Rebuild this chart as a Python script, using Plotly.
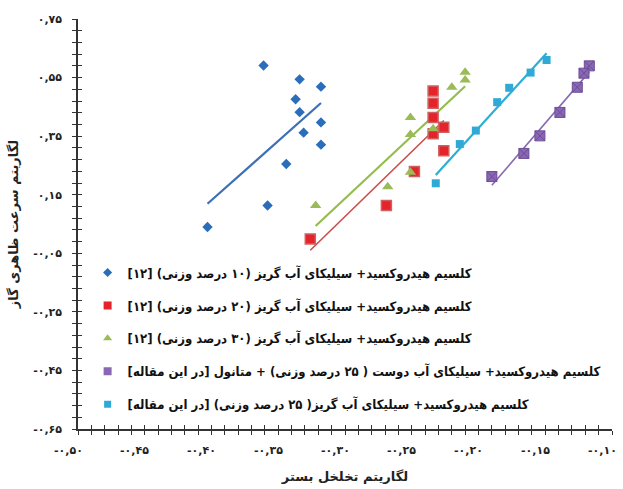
import numpy as np
import plotly.graph_objects as go

# ---- data ----
blue_x = [-0.361, -0.334, -0.318, -0.337, -0.334, -0.318, -0.331, -0.318, -0.344, -0.358, -0.403]
blue_y = [0.591, 0.544, 0.519, 0.476, 0.432, 0.397, 0.362, 0.321, 0.255, 0.113, 0.040]

red_x = [-0.234, -0.234, -0.234, -0.226, -0.234, -0.226, -0.248, -0.269, -0.326]
red_y = [0.504, 0.462, 0.414, 0.380, 0.358, 0.300, 0.229, 0.113, -0.001]

green_x = [-0.210, -0.210, -0.220, -0.251, -0.234, -0.251, -0.251, -0.268, -0.322]
green_y = [0.568, 0.542, 0.517, 0.414, 0.375, 0.356, 0.227, 0.177, 0.113]

purple_x = [-0.117, -0.121, -0.126, -0.139, -0.154, -0.166, -0.190]
purple_y = [0.590, 0.565, 0.517, 0.431, 0.351, 0.291, 0.212]

cyan_x = [-0.149, -0.161, -0.177, -0.186, -0.202, -0.214, -0.232]
cyan_y = [0.610, 0.567, 0.515, 0.466, 0.369, 0.323, 0.189]

series_names = [
    "کلسیم هیدروکسید+ سیلیکای آب گریز (۱۰ درصد وزنی) [۱۲]",
    "کلسیم هیدروکسید+ سیلیکای آب گریز (۲۰ درصد وزنی) [۱۲]",
    "کلسیم هیدروکسید+ سیلیکای آب گریز (۳۰ درصد وزنی) [۱۲]",
    "کلسیم هیدروکسید+ سیلیکای آب دوست ( ۲۵ درصد وزنی) + متانول [در این مقاله]",
    "کلسیم هیدروکسید+ سیلیکای آب گریز( ۲۵ درصد وزنی) [در این مقاله]",
]

x_tick_vals = [-0.50, -0.45, -0.40, -0.35, -0.30, -0.25, -0.20, -0.15, -0.10]
x_tick_text = ["-۰,۵۰", "-۰,۴۵", "-۰,۴۰", "-۰,۳۵", "-۰,۳۰", "-۰,۲۵", "-۰,۲۰", "-۰,۱۵", "-۰,۱۰"]
y_tick_vals = [0.75, 0.55, 0.35, 0.15, -0.05, -0.25, -0.45, -0.65]
y_tick_text = ["۰,۷۵", "۰,۵۵", "۰,۳۵", "۰,۱۵", "-۰,۰۵", "-۰,۲۵", "-۰,۴۵", "-۰,۶۵"]

x_title = "لگاریتم تخلخل بستر"
y_title = "لگاریتم سرعت ظاهری گاز"

RLM = "\u200f"
FONT = "DejaVu Sans"
LEGEND_FONT = "DejaVu Sans Condensed, DejaVu Sans"

styles = [
    dict(symbol="diamond", size=8, color="#2A6EBB", line=dict(width=0), lc="#3D6FB6", lw=2.2),
    dict(symbol="square", size=10, color="#E4232B", line=dict(width=1.5, color="#D06060"), lc="#CC4B4B", lw=1.6),
    dict(symbol="triangle-up", size=10, color="#9BBB59", line=dict(width=0), lc="#94BD4E", lw=2.2),
    dict(symbol="square-x", size=10, color="#8A67B5", line=dict(width=1, color="#6B4C96"), lc="#8A6AB0", lw=1.6),
    dict(symbol="square", size=8, color="#2FAAD6", line=dict(width=0), lc="#2FAED3", lw=2.2),
]
legend_marker_sizes = [7, 8, 8, 8, 7]
data = [(blue_x, blue_y), (red_x, red_y), (green_x, green_y), (purple_x, purple_y), (cyan_x, cyan_y)]

fig = go.Figure()

# trend lines (least squares over each series' x range)
for (xs, ys), st in zip(data, styles):
    xs_a = np.array(xs)
    ys_a = np.array(ys)
    k, b = np.polyfit(xs_a, ys_a, 1)
    xl = np.array([xs_a.min(), xs_a.max()])
    fig.add_trace(go.Scatter(x=xl, y=k * xl + b, mode="lines",
                             line=dict(color=st["lc"], width=st["lw"]),
                             showlegend=False, hoverinfo="skip"))

for i, ((xs, ys), st, nm) in enumerate(zip(data, styles, series_names)):
    fig.add_trace(go.Scatter(
        x=xs, y=ys, mode="markers", name=nm, legendgroup=str(i), showlegend=False,
        marker=dict(symbol=st["symbol"], size=st["size"], color=st["color"], line=st["line"]),
    ))
    # legend entry with a smaller symbol, like the reference
    fig.add_trace(go.Scatter(
        x=[None], y=[None], mode="markers", name=RLM + nm + RLM, legendgroup=str(i),
        marker=dict(symbol=st["symbol"], size=legend_marker_sizes[i], color=st["color"],
                    line=dict(width=0)),
    ))

# invisible trace for the overlay axes (inside half of the cross ticks)
fig.add_trace(go.Scatter(x=[], y=[], xaxis="x2", yaxis="y2", showlegend=False))

tick_font = dict(family=FONT, size=11, color="#222", weight="bold")

# x tick labels: placed at the tick values, drawn slightly left of the tick as in the reference
for v, t in zip(x_tick_vals, x_tick_text):
    fig.add_annotation(x=v, xref="x", y=0, yref="paper", text=t, showarrow=False,
                       xanchor="center", yanchor="top", xshift=-10, yshift=-13, font=tick_font)

fig.update_layout(
    width=623, height=489,
    margin=dict(l=78, r=11, t=19, b=60, autoexpand=False),
    paper_bgcolor="white", plot_bgcolor="white",
    showlegend=True,
    legend=dict(x=0.018, y=0.418, xanchor="left", yanchor="top",
                bgcolor="rgba(0,0,0,0)", traceorder="grouped", tracegroupgap=13,
                font=dict(family=LEGEND_FONT, size=13, color="#111", weight="bold")),
    xaxis=dict(range=[-0.5, -0.1], tickvals=x_tick_vals, showticklabels=False, automargin=False,
               showgrid=False, zeroline=False, showline=True, linecolor="#333", linewidth=1.5,
               ticks="outside", ticklen=4, tickcolor="#333", tickwidth=1.3,
               minor=dict(dtick=0.01, tick0=-0.5, ticks="outside", ticklen=4, tickcolor="#333", tickwidth=1.3),
               title=dict(text=x_title, font=dict(family=FONT, size=13, color="#222", weight="bold"), standoff=38)),
    yaxis=dict(range=[-0.65, 0.75], tickvals=y_tick_vals, ticktext=y_tick_text, automargin=False,
               showgrid=False, zeroline=False, showline=True, linecolor="#333", linewidth=1.5,
               ticks="outside", ticklen=4, tickcolor="#333", tickwidth=1.3,
               minor=dict(dtick=0.04, tick0=-0.65, ticks="outside", ticklen=4, tickcolor="#333", tickwidth=1.3),
               tickfont=tick_font, ticklabelstandoff=8,
               title=dict(text=y_title, font=dict(family=FONT, size=13, color="#222", weight="bold"), standoff=12)),
    xaxis2=dict(range=[-0.5, -0.1], overlaying="x", anchor="y2", side="bottom", automargin=False,
                tickvals=x_tick_vals, showticklabels=False, showgrid=False, zeroline=False, showline=False,
                ticks="inside", ticklen=4, tickcolor="#333", tickwidth=1.3,
                minor=dict(dtick=0.01, tick0=-0.5, ticks="inside", ticklen=4, tickcolor="#333", tickwidth=1.3)),
    yaxis2=dict(range=[-0.65, 0.75], overlaying="y", anchor="x2", side="left", automargin=False,
                tickvals=y_tick_vals, showticklabels=False, showgrid=False, zeroline=False, showline=False,
                ticks="inside", ticklen=4, tickcolor="#333", tickwidth=1.3,
                minor=dict(dtick=0.04, tick0=-0.65, ticks="inside", ticklen=4, tickcolor="#333", tickwidth=1.3)),
)

fig.write_html("out.html", config={"displayModeBar": False},
               post_script="document.body.style.margin='0';document.body.style.overflow='hidden';")
